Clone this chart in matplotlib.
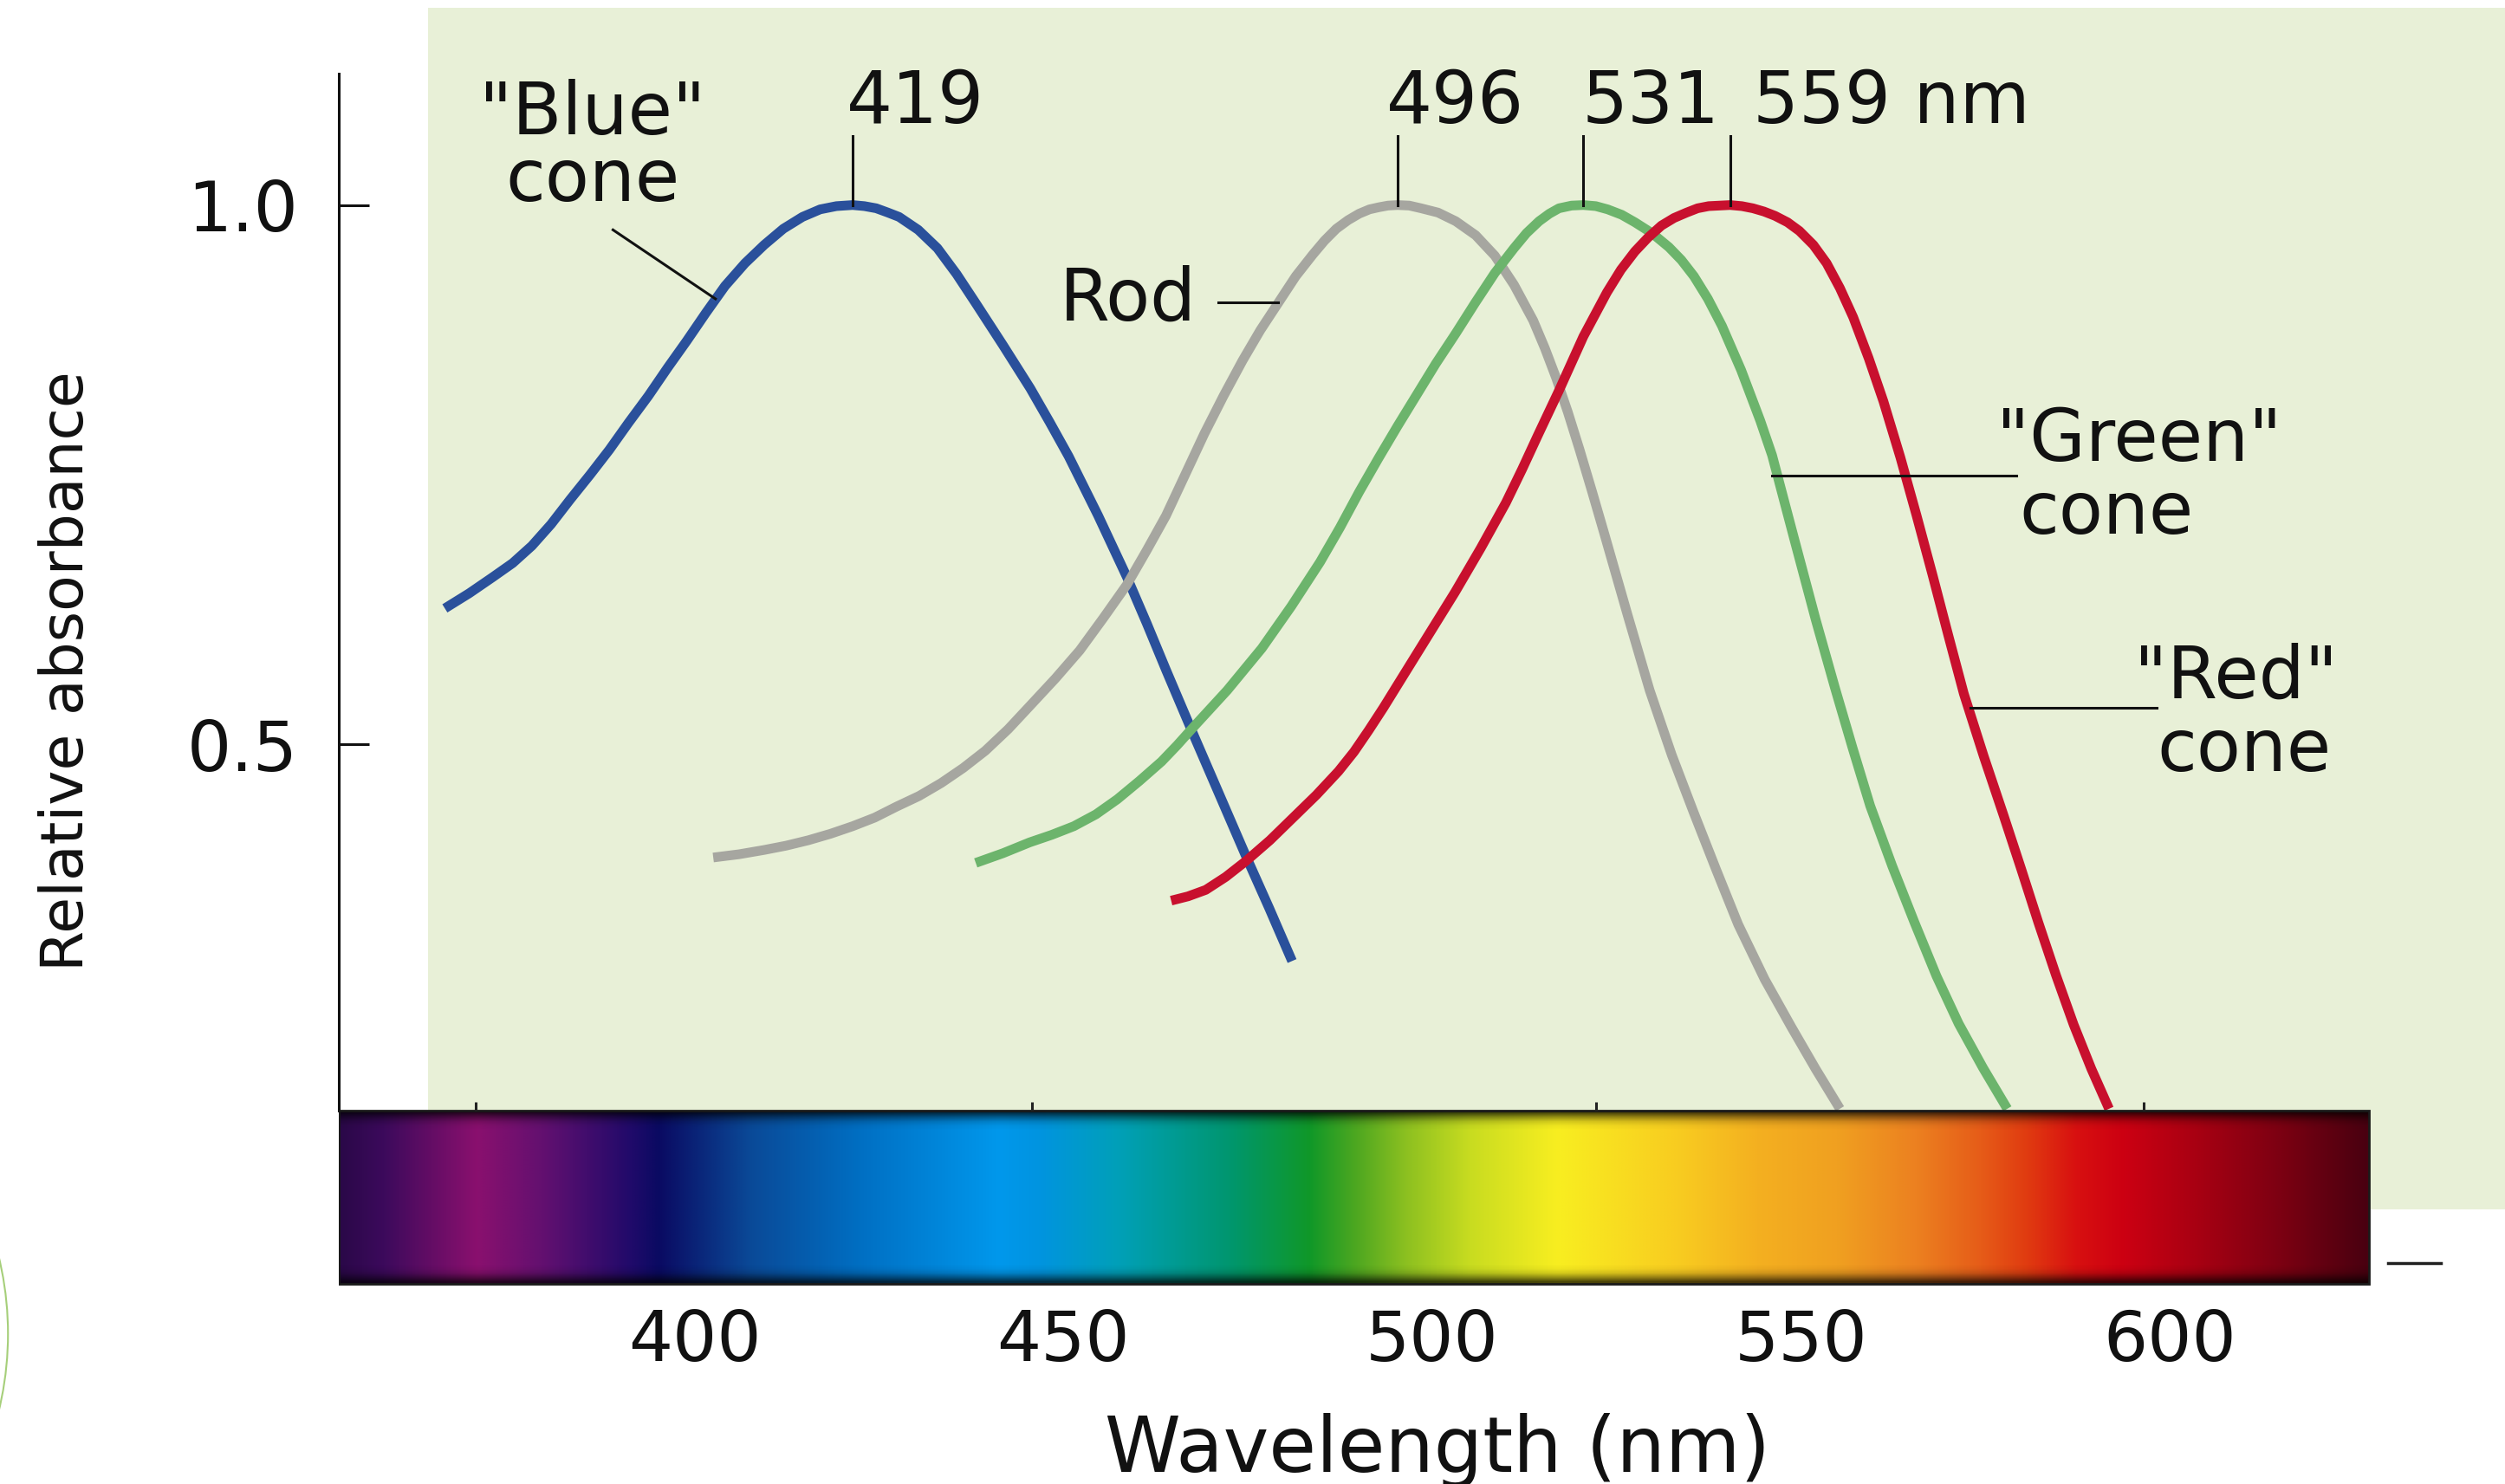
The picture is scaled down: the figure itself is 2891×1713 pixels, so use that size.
import numpy as np
import matplotlib
matplotlib.use("Agg")
import matplotlib.pyplot as plt
from matplotlib.colors import LinearSegmentedColormap
from matplotlib.patches import Rectangle, Ellipse

# ---------------- data ----------------
blue_nm = [366.1, 369.4, 372.6, 375.3, 377.9, 380.5, 383.1, 385.8, 388.4, 391.0,
           393.7, 396.3, 398.9, 401.5, 404.1, 406.8, 409.4, 412.0, 414.6, 417.0,
           419.2, 421.4, 423.0, 424.6, 426.2, 427.7, 430.3, 432.9, 435.5, 438.1,
           441.8, 445.5, 448.1, 450.7, 454.7, 458.6, 461.3, 463.9, 467.5, 471.1,
           474.7, 477.9, 481.0]
blue_abs = [0.626, 0.640, 0.655, 0.668, 0.684, 0.704, 0.727, 0.750, 0.773, 0.798,
            0.823, 0.849, 0.874, 0.900, 0.925, 0.946, 0.963, 0.978, 0.989, 0.996,
            0.999, 1.000, 0.999, 0.997, 0.993, 0.989, 0.977, 0.960, 0.936, 0.909,
            0.870, 0.830, 0.799, 0.767, 0.712, 0.655, 0.612, 0.569, 0.511, 0.454,
            0.397, 0.348, 0.299]

rod_nm = [402.5, 406.0, 409.4, 412.4, 415.4, 418.4, 421.4, 424.4, 427.3, 430.4,
          433.4, 436.4, 439.4, 442.5, 445.5, 448.9, 452.2, 455.4, 458.6, 461.3,
          463.9, 466.5, 469.1, 471.7, 474.3, 476.7, 479.1, 481.5, 483.8, 485.4,
          487.0, 488.6, 490.1, 491.5, 492.8, 494.0, 495.3, 496.9, 498.5, 500.8,
          503.2, 505.9, 508.5, 511.1, 513.7, 515.3, 516.8, 518.4, 520.0, 521.7,
          523.4, 526.5, 529.5, 532.5, 535.4, 538.5, 541.5, 545.1, 548.7, 552.0, 555.3]
rod_abs = [0.395, 0.398, 0.402, 0.406, 0.411, 0.417, 0.424, 0.432, 0.442, 0.452,
           0.464, 0.478, 0.494, 0.514, 0.536, 0.561, 0.587, 0.617, 0.648, 0.680,
           0.712, 0.750, 0.788, 0.823, 0.856, 0.884, 0.909, 0.934, 0.954, 0.967,
           0.978, 0.986, 0.992, 0.996, 0.998, 0.9995, 1.000, 0.9995, 0.997, 0.993,
           0.985, 0.972, 0.953, 0.926, 0.893, 0.867, 0.840, 0.808, 0.773, 0.734,
           0.694, 0.620, 0.550, 0.490, 0.438, 0.384, 0.333, 0.282, 0.238, 0.199, 0.162]

green_nm = [438.1, 441.8, 445.4, 448.4, 451.4, 454.4, 457.3, 460.3, 463.3, 465.4,
            467.5, 472.2, 476.9, 480.9, 484.8, 487.5, 490.1, 492.7, 495.3, 497.9,
            500.5, 503.2, 505.8, 508.5, 511.1, 512.8, 514.5, 515.9, 517.2, 518.9,
            520.5, 522.2, 523.8, 525.7, 527.5, 529.8, 532.1, 533.8, 535.5, 537.4,
            539.3, 541.9, 544.5, 546.1, 549.0, 552.0, 554.6, 557.0, 559.4, 562.4,
            565.4, 568.4, 571.4, 574.7, 578.0]
green_abs = [0.390, 0.399, 0.409, 0.416, 0.424, 0.435, 0.449, 0.466, 0.484, 0.499,
             0.515, 0.550, 0.589, 0.628, 0.669, 0.701, 0.734, 0.765, 0.795, 0.824,
             0.853, 0.881, 0.909, 0.937, 0.960, 0.974, 0.985, 0.992, 0.997, 0.9995,
             1.000, 0.999, 0.996, 0.991, 0.984, 0.974, 0.961, 0.949, 0.934, 0.913,
             0.888, 0.847, 0.800, 0.768, 0.693, 0.616, 0.553, 0.497, 0.443, 0.387,
             0.335, 0.285, 0.241, 0.200, 0.162]

red_nm = [464.6, 466.9, 469.3, 472.0, 474.8, 478.0, 481.3, 484.3, 487.3, 489.4,
          491.4, 493.4, 495.3, 499.2, 503.1, 506.6, 510.0, 512.2, 514.3, 517.2,
          520.5, 523.7, 525.6, 527.5, 529.3, 531.1, 532.8, 534.5, 536.0, 537.5,
          540.4, 542.0, 543.5, 545.0, 546.5, 548.2, 549.8, 551.7, 553.5, 555.3,
          557.1, 559.2, 561.2, 563.5, 565.7, 567.9, 570.0, 572.1, 574.8, 577.5,
          579.9, 582.2, 584.6, 587.0, 589.4, 591.8]
red_abs = [0.355, 0.359, 0.365, 0.377, 0.392, 0.411, 0.433, 0.453, 0.475, 0.493,
           0.513, 0.534, 0.555, 0.598, 0.641, 0.682, 0.724, 0.755, 0.786, 0.828,
           0.878, 0.919, 0.940, 0.957, 0.970, 0.981, 0.988, 0.993, 0.997, 0.999,
           1.000, 0.999, 0.997, 0.994, 0.990, 0.984, 0.976, 0.963, 0.946, 0.923,
           0.896, 0.858, 0.818, 0.766, 0.712, 0.656, 0.601, 0.547, 0.489, 0.434,
           0.384, 0.335, 0.286, 0.240, 0.199, 0.162]

peak_nm = [421.4, 495.3, 520.5, 540.4]          # where the peak markers sit
peak_labels = ["419", "496", "531", "559 nm"]
peak_label_x = [420.6, 493.8, 520.3, 543.5]

xtick_values = [400, 450, 500, 550, 600]
ytick_values = [0.5, 1.0]
ytick_labels = ["0.5", "1.0"]

spectrum_nm = [351.7, 357.7, 370.3, 379.4, 391.3, 395.0, 407.6, 422.8, 441.2, 446.6,
               457.4, 472.6, 483.4, 489.9, 496.4, 505.1, 517.0, 533.3, 544.1, 554.9,
               565.8, 574.4, 580.9, 587.4, 593.9, 604.8, 615.6, 627.1]
spectrum_colors = ["#2a0848", "#3c0a5c", "#8a106e", "#621070", "#200a6a", "#0a0a62",
                   "#0a4a98", "#0070c4", "#0098ec", "#0094e0", "#00a0b8", "#00966e",
                   "#109828", "#50a820", "#8cc020", "#c8dc20", "#f8ee20", "#f8cc20",
                   "#f4b020", "#f0a020", "#ec8020", "#e65c18", "#e03a10", "#d81010",
                   "#cc0012", "#a40012", "#7a0012", "#480010"]
bar_shade = [0.7, 0.4, 0.15, 0.04] + [0.0] * 32 + [0.04, 0.15, 0.4, 0.7]

# ---------------- figure ----------------
W, H = 1568.0, 929.0
fig = plt.figure(figsize=(28.91, 17.13), dpi=100)
fig.patch.set_facecolor("white")

fig.add_artist(Rectangle((268 / W, 1 - 757 / H), 1 - 268 / W, (757 - 5) / H,
                         transform=fig.transFigure, facecolor="#e8f0d7",
                         edgecolor="none", zorder=-10))
fig.add_artist(Ellipse((-200 / W, 1 - 835 / H), 410 / W, 410 / H,
                       transform=fig.transFigure, fill=False,
                       edgecolor="#a6cf7a", lw=1.5, zorder=-5))

ax = fig.add_axes([212 / W, 1 - 805.5 / H, 1 - 212 / W, (805.5 - 46) / H])
ax.set_facecolor("none")

# colour spectrum bar
x0, x1 = spectrum_nm[0], spectrum_nm[-1]
stops = [((v - x0) / (x1 - x0), c) for v, c in zip(spectrum_nm, spectrum_colors)]
cmap = LinearSegmentedColormap.from_list("spec", stops, N=1024)
grad = np.linspace(0, 1, 1024)[None, :]
ax.imshow(grad, extent=[x0, x1, 0.0, 0.16], aspect="auto", cmap=cmap,
          interpolation="bilinear", zorder=5)
shade = np.zeros((len(bar_shade), 1, 4))
shade[:, 0, 3] = bar_shade
ax.imshow(shade, extent=[x0, x1, 0.0, 0.16], aspect="auto",
          interpolation="bilinear", zorder=6)
ax.add_patch(Rectangle((x0, 0.0), x1 - x0, 0.16, fill=False,
                       edgecolor="#1a1a1a", lw=2.0, zorder=7))
ax.vlines([370.3, 445.7, 522.2, 596.5], 0.16, 0.168, color="#222222", lw=2.2, zorder=7)
ax.plot([629.6, 636.8], [0.0193, 0.0193], color="#202020", lw=2.5,
        clip_on=False, zorder=7)

# curves
lw = 8
kw = dict(lw=lw, solid_capstyle="butt", solid_joinstyle="round")
ax.plot(blue_nm, blue_abs, color="#2a509b", zorder=3, **kw)
ax.plot(rod_nm, rod_abs, color="#a6a6a0", zorder=3.1, **kw)
ax.plot(green_nm, green_abs, color="#6cb46c", zorder=3.2, **kw)
ax.plot(red_nm, red_abs, color="#c8102e", zorder=3.3, **kw)

# peak markers & labels
fs = 60
for px, lab, lx in zip(peak_nm, peak_labels, peak_label_x):
    ax.plot([px, px], [1.0, 1.064], color="#111111", lw=2.2, zorder=4)
    ax.text(lx, 1.076, lab, fontsize=fs, ha="left", va="baseline",
            family="DejaVu Sans", color="#111111")

# curve labels
ax.text(386.1, 1.066, '"Blue"', fontsize=fs, ha="center", va="baseline", color="#111111")
ax.text(386.1, 1.004, "cone", fontsize=fs, ha="center", va="baseline", color="#111111")
ax.plot([388.9, 402.8], [0.977, 0.913], color="#111111", lw=2.2, zorder=4)

ax.text(468.0, 0.893, "Rod", fontsize=fs, ha="right", va="baseline", color="#111111")
ax.plot([471.0, 479.1], [0.910, 0.910], color="#111111", lw=2.2, zorder=4)

ax.text(576.5, 0.763, '"Green"', fontsize=fs, ha="left", va="baseline", color="#111111")
ax.text(579.6, 0.6956, "cone", fontsize=fs, ha="left", va="baseline", color="#111111")
ax.plot([546.1, 579.2], [0.749, 0.749], color="#111111", lw=2.2, zorder=4)

ax.text(595.2, 0.543, '"Red"', fontsize=fs, ha="left", va="baseline", color="#111111")
ax.text(598.3, 0.4754, "cone", fontsize=fs, ha="left", va="baseline", color="#111111")
ax.plot([573.0, 598.3], [0.534, 0.534], color="#111111", lw=2.2, zorder=4)

# axes styling
ax.set_xlim(351.7, 645.5)
ax.set_ylim(-0.003, 1.122)
for s in ["top", "right", "bottom"]:
    ax.spines[s].set_visible(False)
ax.spines["left"].set_linewidth(2.2)
ax.spines["left"].set_color("#111111")
ax.spines["left"].set_bounds(0.16, 1.122)

ax.set_yticks(ytick_values)
ax.set_yticklabels(ytick_labels)
ax.tick_params(axis="y", direction="in", length=25, width=2.2, pad=34,
               labelsize=58, colors="#111111")
ax.set_xticks(xtick_values)
ax.set_xticklabels([str(v) for v in xtick_values])
ax.tick_params(axis="x", length=0, pad=18, labelsize=58, colors="#111111")

fig.text(0.0268, 0.548, "Relative absorbance", rotation=90, ha="center", va="center",
         fontsize=49, family="DejaVu Sans", color="#111111")
fig.text(0.574, 0.0226, "Wavelength (nm)", ha="center", va="center",
         fontsize=64, color="#111111")

fig.savefig("out.png", dpi=100, facecolor="white")
